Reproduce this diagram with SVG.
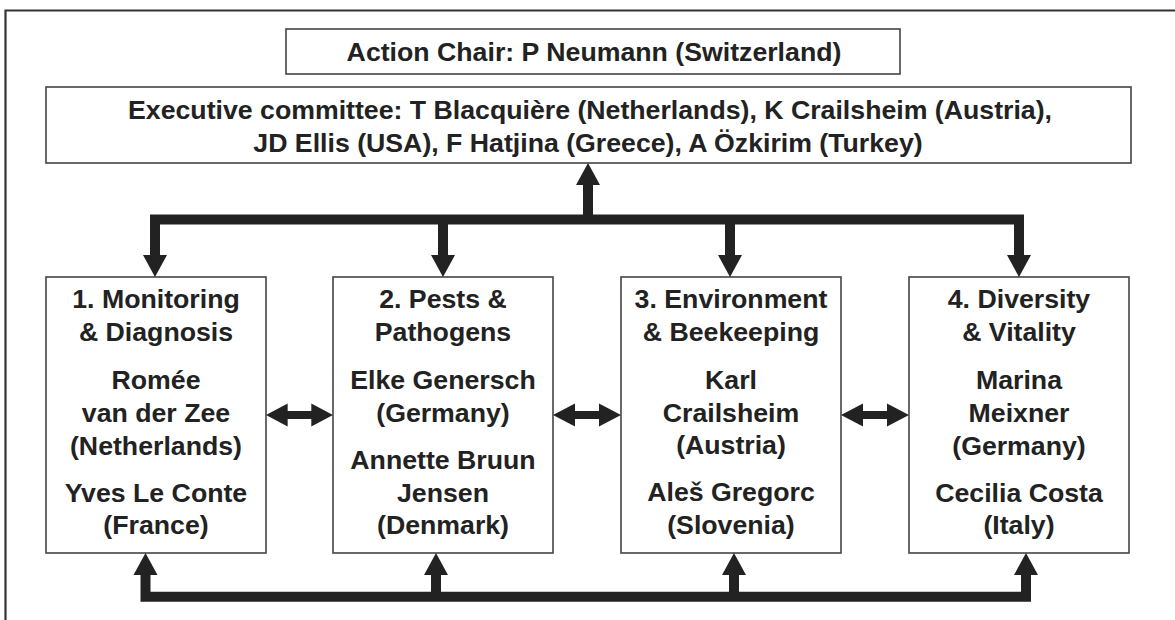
<svg xmlns="http://www.w3.org/2000/svg" width="1175" height="620" viewBox="0 0 1175 620">
<style>
.box{fill:#fff;stroke:#444;stroke-width:1.6}
.t{font-family:"Liberation Sans",Arial,sans-serif;font-weight:bold;font-size:26.7px;fill:#222;text-anchor:middle}
.ln{fill:none;stroke:#222;stroke-width:10;stroke-linejoin:miter}
.ah{fill:#222}
</style>
<defs>
<polygon id="down" points="-12,-22 12,-22 0,0"/>
<polygon id="dbl" points="0,0 22,-11.5 22,-4 46,-4 46,-11.5 68,0 46,11.5 46,4 22,4 22,11.5"/>
</defs>
<rect width="1175" height="620" fill="#fff"/>
<path d="M5.5,620 V10.5 H1175" fill="none" stroke="#333" stroke-width="2.2"/>

<g id="chair">
<rect class="box" x="286" y="29" width="614" height="45"/>
<text class="t" x="594" y="61">Action Chair: P Neumann (Switzerland)</text>
</g>
<g id="exec">
<rect class="box" x="46" y="87" width="1085" height="76"/>
<text class="t" x="590" y="119">Executive committee: T Blacquière (Netherlands), K Crailsheim (Austria),</text>
<text class="t" x="588" y="152">JD Ellis (USA), F Hatjina (Greece), A Özkirim (Turkey)</text>
</g>

<g id="wg1">
<rect class="box" x="46" y="277" width="220" height="276"/>
<text class="t" x="156" y="308">1. Monitoring</text>
<text class="t" x="156" y="341">&amp; Diagnosis</text>
<text class="t" x="156" y="389">Romée</text>
<text class="t" x="156" y="422">van der Zee</text>
<text class="t" x="156" y="455">(Netherlands)</text>
<text class="t" x="156" y="502">Yves Le Conte</text>
<text class="t" x="156" y="534">(France)</text>
</g>
<g id="wg2">
<rect class="box" x="333" y="277" width="220" height="276"/>
<text class="t" x="443" y="308">2. Pests &amp;</text>
<text class="t" x="443" y="341">Pathogens</text>
<text class="t" x="443" y="389">Elke Genersch</text>
<text class="t" x="443" y="422">(Germany)</text>
<text class="t" x="443" y="469">Annette Bruun</text>
<text class="t" x="443" y="502">Jensen</text>
<text class="t" x="443" y="534">(Denmark)</text>
</g>
<g id="wg3">
<rect class="box" x="621" y="277" width="220" height="276"/>
<text class="t" x="731" y="308">3. Environment</text>
<text class="t" x="731" y="341">&amp; Beekeeping</text>
<text class="t" x="731" y="389">Karl</text>
<text class="t" x="731" y="422">Crailsheim</text>
<text class="t" x="731" y="454">(Austria)</text>
<text class="t" x="731" y="501">Aleš Gregorc</text>
<text class="t" x="731" y="534">(Slovenia)</text>
</g>
<g id="wg4">
<rect class="box" x="909" y="277" width="220" height="276"/>
<text class="t" x="1019" y="308">4. Diversity</text>
<text class="t" x="1019" y="341">&amp; Vitality</text>
<text class="t" x="1019" y="389">Marina</text>
<text class="t" x="1019" y="422">Meixner</text>
<text class="t" x="1019" y="455">(Germany)</text>
<text class="t" x="1019" y="502">Cecilia Costa</text>
<text class="t" x="1019" y="534">(Italy)</text>
</g>

<g id="connectors">
<path class="ln" d="M588,220 V183"/>
<use href="#down" class="ah" transform="translate(588,163) rotate(180)"/>
<path class="ln" d="M155,257 V219.5 H1019 V257"/>
<path class="ln" d="M443,219.5 V257 M730,219.5 V257"/>
<use href="#down" class="ah" transform="translate(155,277)"/>
<use href="#down" class="ah" transform="translate(443,277)"/>
<use href="#down" class="ah" transform="translate(730,277)"/>
<use href="#down" class="ah" transform="translate(1019,277)"/>
<path class="ln" d="M145.5,574 V596.7 H1026 V574"/>
<path class="ln" d="M436,596.7 V574 M734,596.7 V574"/>
<use href="#down" class="ah" transform="translate(145.5,553) rotate(180)"/>
<use href="#down" class="ah" transform="translate(436,553) rotate(180)"/>
<use href="#down" class="ah" transform="translate(734,553) rotate(180)"/>
<use href="#down" class="ah" transform="translate(1026,553) rotate(180)"/>
<use href="#dbl" class="ah" transform="translate(266,415) scale(0.985,1)"/>
<use href="#dbl" class="ah" transform="translate(553,415)"/>
<use href="#dbl" class="ah" transform="translate(841,415)"/>
</g>
</svg>
